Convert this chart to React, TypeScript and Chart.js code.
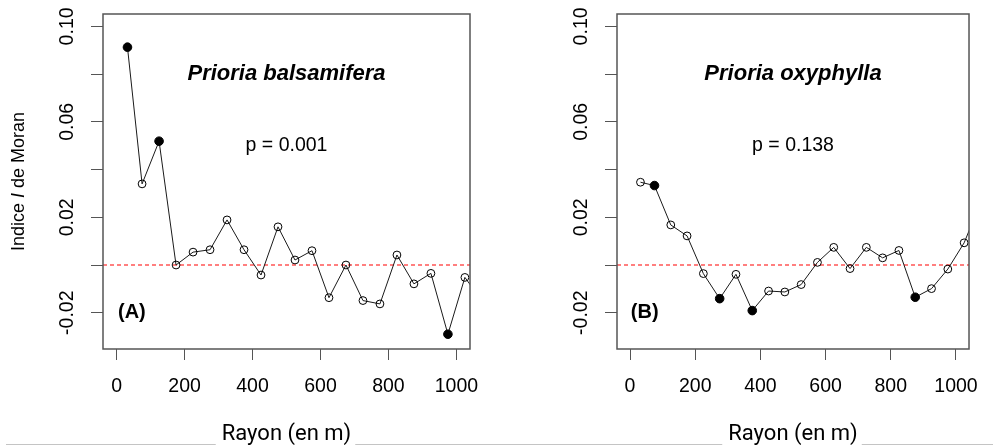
import React, { useEffect, useRef } from "react";
import { Chart, registerables } from "chart.js";

Chart.register(...registerables);

// ---- data ----
const distances = [32, 75, 125, 175, 225, 275, 325, 375, 425, 475, 525, 575, 625, 675, 725, 775, 825, 875, 925, 975, 1025, 1075];

const moranBalsamifera = [0.0913, 0.034, 0.0519, 0.0, 0.0054, 0.0064, 0.0189, 0.0064, -0.0042, 0.016, 0.0021, 0.006, -0.0137, 0.0, -0.0149, -0.0163, 0.0042, -0.0079, -0.0035, -0.029, -0.0052, -0.015];
const significantBalsamifera = [0, 2, 19];

const moranOxyphylla = [0.0347, 0.0333, 0.0168, 0.0122, -0.0036, -0.0141, -0.0039, -0.0191, -0.0109, -0.0113, -0.0082, 0.0011, 0.0074, -0.0015, 0.0074, 0.003, 0.0061, -0.0135, -0.0099, -0.0017, 0.0093, 0.026];
const significantOxyphylla = [1, 5, 7, 17];

const xTicks = [0, 200, 400, 600, 800, 1000];
const yTicks = [-0.02, 0, 0.02, 0.04, 0.06, 0.08, 0.1];
const yTickLabels = ["-0.02", "", "0.02", "", "0.06", "", "0.10"];
const xLimits = [-40, 1040];
const yLimits = [-0.0352, 0.1052];

const xTitle = "Rayon (en m)";
const yTitleParts = ["Indice ", "I", " de Moran"];

const R_FONT = '"Liberation Sans", Arial, sans-serif';
const DOC_FONT = 'Roboto, "Open Sans", sans-serif';

type PanelProps = {
  values: number[];
  significant: number[];
  species: string;
  pLabel: string;
  tag: string;
  showYTitle: boolean;
  width: number;
  left: number;
  yAxisWidth: number;
  padRight: number;
  lineStart: number;
};

function MoranPanel(props: PanelProps) {
  const ref = useRef<HTMLCanvasElement>(null);

  useEffect(() => {
    const canvas = ref.current;
    if (!canvas) return;

    const decor = {
      id: "panelDecor",
      beforeDatasetsDraw(chart: any) {
        const { ctx, chartArea: a, scales } = chart;
        const y0 = scales.y.getPixelForValue(0);
        ctx.save();
        ctx.strokeStyle = "#ff0000";
        ctx.lineWidth = 1.2;
        ctx.setLineDash([4, 3]);
        ctx.beginPath();
        ctx.moveTo(a.left, y0);
        ctx.lineTo(a.right, y0);
        ctx.stroke();
        ctx.restore();
      },
      afterDraw(chart: any) {
        const { ctx, chartArea: a, scales } = chart;
        const xs = scales.x;
        const ys = scales.y;
        ctx.save();
        // box
        ctx.strokeStyle = "#555";
        ctx.lineWidth = 1.5;
        ctx.strokeRect(a.left, a.top, a.right - a.left, a.bottom - a.top);

        // annotations
        ctx.fillStyle = "#000";
        ctx.textAlign = "center";
        ctx.textBaseline = "middle";
        ctx.font = `bold italic 22px ${R_FONT}`;
        ctx.fillText(props.species, xs.getPixelForValue(500), ys.getPixelForValue(0.08));
        ctx.font = `19.5px ${R_FONT}`;
        ctx.fillText(props.pLabel, xs.getPixelForValue(500), ys.getPixelForValue(0.05));
        ctx.font = `bold 20px ${R_FONT}`;
        ctx.fillText(props.tag, xs.getPixelForValue(45), ys.getPixelForValue(-0.02));

        // y title with italic I
        if (props.showYTitle) {
          const fonts = [`18px ${R_FONT}`, `italic 18px ${R_FONT}`, `18px ${R_FONT}`];
          const widths = yTitleParts.map((t, i) => {
            ctx.font = fonts[i];
            return ctx.measureText(t).width;
          });
          const total = widths.reduce((s, w) => s + w, 0);
          ctx.save();
          ctx.translate(19, (a.top + a.bottom) / 2);
          ctx.rotate(-Math.PI / 2);
          ctx.textAlign = "left";
          let px = -total / 2;
          yTitleParts.forEach((t, i) => {
            ctx.font = fonts[i];
            ctx.fillText(t, px, 0);
            px += widths[i];
          });
          ctx.restore();
        }

        // bottom grey rule with a gap around the axis title
        ctx.font = `22px ${DOC_FONT}`;
        const tw = ctx.measureText(xTitle).width;
        const tc = (xs.left + xs.right) / 2;
        ctx.strokeStyle = "#c4c4c4";
        ctx.lineWidth = 1;
        ctx.beginPath();
        ctx.moveTo(props.lineStart, 444.5);
        ctx.lineTo(tc - tw / 2 - 6, 444.5);
        ctx.moveTo(tc + tw / 2 + 4, 444.5);
        ctx.lineTo(chart.width, 444.5);
        ctx.stroke();
        ctx.restore();
      },
    };

    const isSig = props.values.map((_, i) => props.significant.includes(i));
    const pointFill = isSig.map((s) => (s ? "#000" : "rgba(0,0,0,0)"));
    const pointR = isSig.map((s) => (s ? 4.3 : 3.9));

    const chart = new Chart(canvas, {
      type: "line",
      data: {
        datasets: [
          {
            data: distances.map((d, i) => ({ x: d, y: props.values[i] })),
            borderColor: "#1a1a1a",
            borderWidth: 1,
            pointRadius: pointR,
            pointHoverRadius: pointR,
            pointBorderWidth: 1,
            pointBorderColor: "#000",
            pointBackgroundColor: pointFill,
            tension: 0,
            fill: false,
          },
        ],
      },
      options: {
        responsive: false,
        animation: false,
        events: [],
        layout: { padding: { left: 0, right: props.padRight, top: 14, bottom: 0 } },
        plugins: {
          legend: { display: false },
          tooltip: { enabled: false },
          title: { display: false },
        },
        scales: {
          x: {
            type: "linear",
            min: xLimits[0],
            max: xLimits[1],
            afterBuildTicks: (s: any) => {
              s.ticks = xTicks.map((v) => ({ value: v }));
            },
            afterFit: (s: any) => {
              s.height = 98;
            },
            grid: {
              display: true,
              drawOnChartArea: false,
              drawTicks: true,
              tickLength: 11,
              color: "#555",
              lineWidth: 1,
            },
            border: { display: false },
            ticks: {
              font: { size: 19.5, family: R_FONT, lineHeight: 1.2 },
              color: "#000",
              padding: 15,
              autoSkip: false,
              maxRotation: 0,
              minRotation: 0,
              callback: (v: any) => String(v),
            },
            title: {
              display: true,
              text: xTitle,
              font: { family: DOC_FONT, size: 22, lineHeight: 1 },
              color: "#000",
              padding: { top: 0, bottom: 2 },
            },
          },
          y: {
            type: "linear",
            min: yLimits[0],
            max: yLimits[1],
            afterBuildTicks: (s: any) => {
              s.ticks = yTicks.map((v) => ({ value: v }));
            },
            afterFit: (s: any) => {
              s.width = props.yAxisWidth;
            },
            grid: {
              display: true,
              drawOnChartArea: false,
              drawTicks: true,
              tickLength: 12,
              color: "#555",
              lineWidth: 1,
            },
            border: { display: false },
            ticks: {
              font: { size: 19.5, family: R_FONT },
              color: "#000",
              padding: 1,
              autoSkip: false,
              minRotation: 90,
              maxRotation: 90,
              crossAlign: "center",
              callback: (_v: any, i: number) => yTickLabels[i],
            },
          },
        },
      },
      plugins: [decor],
    } as any);

    return () => chart.destroy();
  }, []);

  return (
    <canvas
      ref={ref}
      width={props.width}
      height={447}
      style={{ position: "absolute", left: props.left, top: 0, width: props.width, height: 447, display: "block" }}
    />
  );
}

export default function App() {
  return (
    <div style={{ position: "absolute", left: 0, top: 0, width: 993, height: 447, background: "#fff", overflow: "hidden" }}>
      <MoranPanel
        values={moranBalsamifera}
        significant={significantBalsamifera}
        species="Prioria balsamifera"
        pLabel="p = 0.001"
        tag="(A)"
        showYTitle={true}
        width={496}
        left={0}
        yAxisWidth={103}
        padRight={26}
        lineStart={6}
      />
      <MoranPanel
        values={moranOxyphylla}
        significant={significantOxyphylla}
        species="Prioria oxyphylla"
        pLabel="p = 0.138"
        tag="(B)"
        showYTitle={false}
        width={497}
        left={496}
        yAxisWidth={121}
        padRight={9}
        lineStart={0}
      />
    </div>
  );
}
